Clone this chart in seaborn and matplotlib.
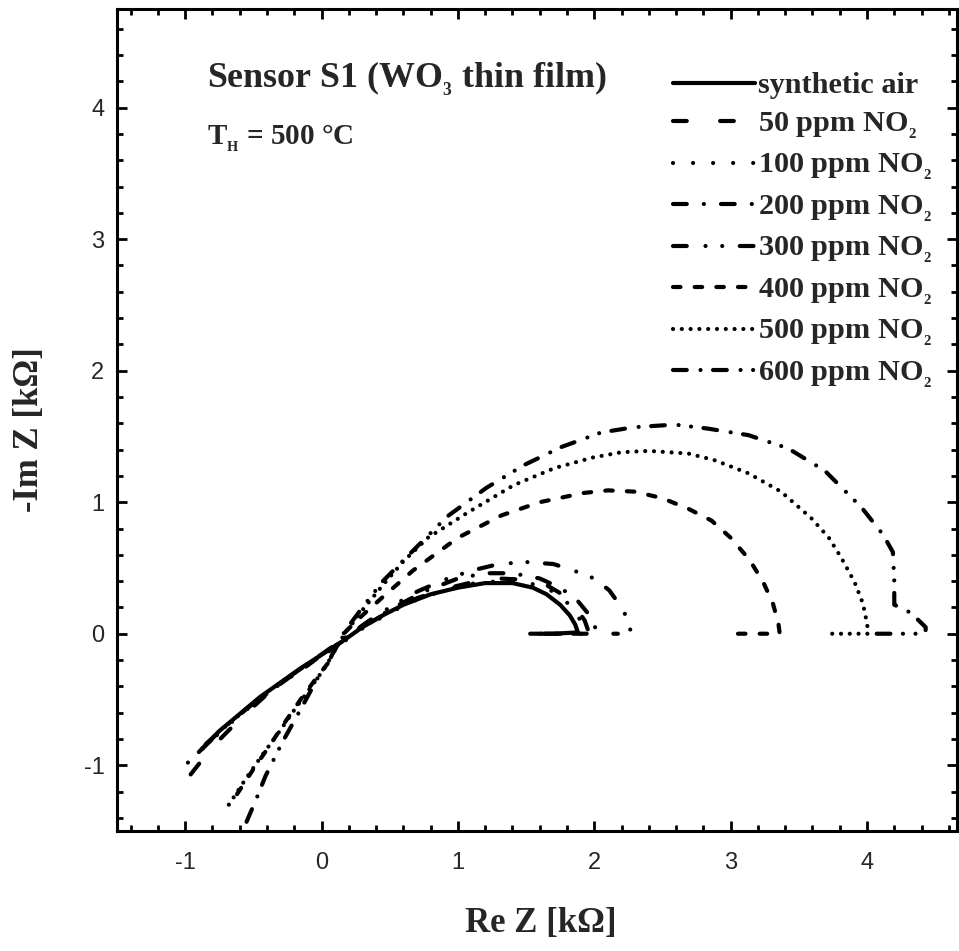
import matplotlib
matplotlib.use("Agg")
import matplotlib.pyplot as plt
import seaborn as sns
import pandas as pd
from matplotlib.ticker import MultipleLocator

# ---------------- data (Re Z, -Im Z in kOhm) ----------------
labels = ["synthetic air", "50 ppm NO$_{_2}$", "100 ppm NO$_{_2}$", "200 ppm NO$_{_2}$",
          "300 ppm NO$_{_2}$", "400 ppm NO$_{_2}$", "500 ppm NO$_{_2}$", "600 ppm NO$_{_2}$"]

air_re = [-0.90, -0.75, -0.60, -0.45, -0.30, -0.15, 0.00, 0.15, 0.30, 0.45, 0.60, 0.80,
          1.00, 1.20, 1.40, 1.55, 1.65, 1.75, 1.82, 1.86, 1.88, 1.70, 1.53]
air_im = [-0.90, -0.74, -0.61, -0.48, -0.37, -0.26, -0.16, -0.06, 0.05, 0.14, 0.22, 0.30,
          0.35, 0.385, 0.385, 0.35, 0.30, 0.22, 0.14, 0.07, 0.01, 0.00, 0.00]

no2_50_re = [-0.96, -0.80, -0.60, -0.40, -0.20, 0.00, 0.15, 0.30, 0.50, 0.70, 0.90, 1.10,
             1.30, 1.50, 1.65, 1.78, 1.87, 1.93, 1.96, 1.80, 1.58]
no2_50_im = [-1.07, -0.86, -0.65, -0.46, -0.30, -0.16, -0.06, 0.05, 0.17, 0.27, 0.34, 0.39,
             0.42, 0.41, 0.37, 0.29, 0.19, 0.10, 0.01, 0.00, 0.00]

no2_100_re = [-0.98, -0.80, -0.60, -0.40, -0.20, 0.00, 0.15, 0.30, 0.50, 0.70, 0.90, 1.10,
              1.30, 1.50, 1.65, 1.77, 1.86, 1.91, 1.93, 1.75, 1.55]
no2_100_im = [-0.98, -0.80, -0.62, -0.45, -0.30, -0.17, -0.07, 0.04, 0.16, 0.26, 0.33, 0.38,
              0.40, 0.39, 0.35, 0.27, 0.17, 0.08, 0.00, 0.00, 0.00]

no2_200_re = [-0.85, -0.70, -0.50, -0.30, -0.10, 0.05, 0.20, 0.35, 0.55, 0.75, 1.00, 1.20,
              1.40, 1.60, 1.75, 1.87, 1.95, 2.00, 2.02, 1.85, 1.65]
no2_200_im = [-0.84, -0.70, -0.53, -0.38, -0.23, -0.12, -0.01, 0.09, 0.21, 0.32, 0.42, 0.46,
              0.46, 0.42, 0.35, 0.26, 0.16, 0.07, 0.00, 0.00, 0.00]

no2_300_re = [-0.88, -0.70, -0.50, -0.30, -0.10, 0.05, 0.20, 0.35, 0.50, 0.70, 0.90, 1.10,
              1.30, 1.50, 1.70, 1.85, 2.00, 2.11, 2.20, 2.25, 2.27, 2.14]
no2_300_im = [-0.88, -0.70, -0.53, -0.38, -0.24, -0.12, -0.01, 0.10, 0.20, 0.32, 0.41, 0.48,
              0.53, 0.545, 0.53, 0.48, 0.42, 0.33, 0.20, 0.10, 0.00, 0.00]

no2_400_re = [-0.62, -0.50, -0.38, -0.26, -0.14, -0.04, 0.05, 0.11, 0.18, 0.30, 0.45, 0.67,
              1.00, 1.32, 1.60, 1.92, 2.10, 2.30, 2.50, 2.69, 2.86, 3.00, 3.14, 3.24, 3.31,
              3.35, 3.36, 3.20, 3.04]
no2_400_im = [-1.22, -1.03, -0.85, -0.66, -0.48, -0.34, -0.22, -0.10, 0.02, 0.14, 0.28, 0.48,
              0.73, 0.90, 1.00, 1.07, 1.09, 1.08, 1.03, 0.95, 0.86, 0.73, 0.56, 0.39, 0.23,
              0.08, 0.00, 0.00, 0.00]

no2_500_re = [-0.68, -0.56, -0.44, -0.32, -0.20, -0.08, 0.03, 0.10, 0.17, 0.30, 0.45, 0.60,
              0.78, 1.07, 1.41, 1.71, 1.99, 2.20, 2.40, 2.69, 2.88, 3.13, 3.37, 3.59, 3.72,
              3.81, 3.91, 3.97, 4.00, 4.01, 3.85, 3.72]
no2_500_im = [-1.30, -1.11, -0.93, -0.76, -0.58, -0.41, -0.25, -0.12, 0.00, 0.18, 0.37, 0.55,
              0.73, 0.92, 1.13, 1.26, 1.34, 1.38, 1.39, 1.37, 1.32, 1.22, 1.08, 0.88, 0.73,
              0.58, 0.39, 0.23, 0.08, 0.00, 0.00, 0.00]

no2_600_re = [-0.55, -0.48, -0.41, -0.29, -0.14, -0.02, 0.06, 0.12, 0.20, 0.30, 0.45, 0.65,
              0.92, 1.21, 1.48, 1.76, 2.05, 2.29, 2.59, 2.83, 3.13, 3.42, 3.69, 3.96, 4.12,
              4.19, 4.20, 4.20, 4.32, 4.43, 4.43, 4.20, 4.00]
no2_600_im = [-1.43, -1.26, -1.08, -0.83, -0.55, -0.32, -0.20, -0.06, 0.06, 0.20, 0.40, 0.61,
              0.89, 1.11, 1.28, 1.42, 1.53, 1.57, 1.59, 1.56, 1.51, 1.41, 1.24, 0.96, 0.75,
              0.62, 0.40, 0.22, 0.16, 0.05, 0.00, 0.00, 0.00]

series_re = [air_re, no2_50_re, no2_100_re, no2_200_re, no2_300_re, no2_400_re, no2_500_re, no2_600_re]
series_im = [air_im, no2_50_im, no2_100_im, no2_200_im, no2_300_im, no2_400_im, no2_500_im, no2_600_im]

x_ticks = [-1, 0, 1, 2, 3, 4]
y_ticks = [-1, 0, 1, 2, 3, 4]

# ---------------- styles ----------------
dash_styles = [
    "-",
    (0, (3.3, 8.0)),
    (0, (0.01, 4.8)),
    (0, (3.3, 4.1, 0.01, 4.1)),
    (0, (3.3, 4.5, 0.01, 4.0, 0.01, 4.2)),
    (0, (1.8, 3.4)),
    (0, (0.01, 2.1)),
    (0, (3.3, 3.3, 0.01, 3.0, 3.3, 3.3, 0.01, 3.0, 0.01, 3.0)),
]

sns.set_style("ticks")
plt.rcParams.update({
    "font.family": ["Liberation Serif", "DejaVu Serif"],
    "font.weight": "bold",
    "mathtext.fontset": "custom",
    "mathtext.rm": "Liberation Serif:bold",
    "mathtext.it": "Liberation Serif:italic:bold",
    "mathtext.bf": "Liberation Serif:bold",
    "lines.dash_capstyle": "round",
    "lines.solid_capstyle": "round",
    "axes.linewidth": 2.2,
})

fig = plt.figure(figsize=(9.59, 9.51), dpi=100)
ax = fig.add_axes([117 / 959, 120 / 951, 840 / 959, 822 / 951])

LW = 3.0
for re_v, im_v, lab, ls in zip(series_re, series_im, labels, dash_styles):
    df = pd.DataFrame({"re": re_v, "im": im_v})
    sns.lineplot(data=df, x="re", y="im", sort=False, estimator=None, ax=ax,
                 color="black", linewidth=LW, linestyle=ls, label=lab)

for line in ax.lines:
    line.set_dash_capstyle("round")
    line.set_solid_capstyle("round")

ax.set_xlim(-1.5, 4.66)
ax.set_ylim(-1.5, 4.75)
ax.set_xticks(x_ticks)
ax.set_yticks(y_ticks)
ax.xaxis.set_minor_locator(MultipleLocator(0.2))
ax.yaxis.set_minor_locator(MultipleLocator(0.2))
ax.set_xticklabels([str(t) for t in x_ticks], family="Liberation Sans", weight="normal", fontsize=17)
ax.set_yticklabels([str(t) for t in y_ticks], family="Liberation Sans", weight="normal", fontsize=17)
ax.tick_params(which="both", direction="in", top=True, right=True, width=2.0, color="black")
ax.tick_params(which="major", length=7.5)
ax.tick_params(which="minor", length=4.5)
ax.tick_params(axis="x", which="major", pad=15)
ax.tick_params(axis="y", which="major", pad=9)
for sp in ax.spines.values():
    sp.set_linewidth(2.2)
    sp.set_color("black")

ax.set_xlabel("Re Z [kΩ]", fontsize=25, fontweight="bold")
ax.set_ylabel("-Im Z [kΩ]", fontsize=25, fontweight="bold")
ax.xaxis.label.set_va("center")
ax.yaxis.label.set_va("center")
ax.xaxis.set_label_coords(0.505, -0.112)
ax.yaxis.set_label_coords(-0.1036, 0.488)

ax.text(0.107, 0.905, "Sensor S1 (WO$_{_3}$ thin film)", transform=ax.transAxes,
        fontsize=25.8, fontweight="bold", ha="left", va="baseline")
ax.text(0.107, 0.835, "T$_{_\\mathrm{H}}$ = 500 °C", transform=ax.transAxes,
        fontsize=21, fontweight="bold", ha="left", va="baseline")

handles, labs = ax.get_legend_handles_labels()
leg = ax.legend(handles, labs, loc="upper left", bbox_to_anchor=(673 / 959, 1 - 72 / 951),
                bbox_transform=fig.transFigure, frameon=False, fontsize=21.8,
                handlelength=2.7, handletextpad=0.1, labelspacing=0.37,
                borderpad=0, borderaxespad=0)
for t in leg.get_texts():
    t.set_fontweight("bold")

fig.savefig("out.png", dpi=100)
